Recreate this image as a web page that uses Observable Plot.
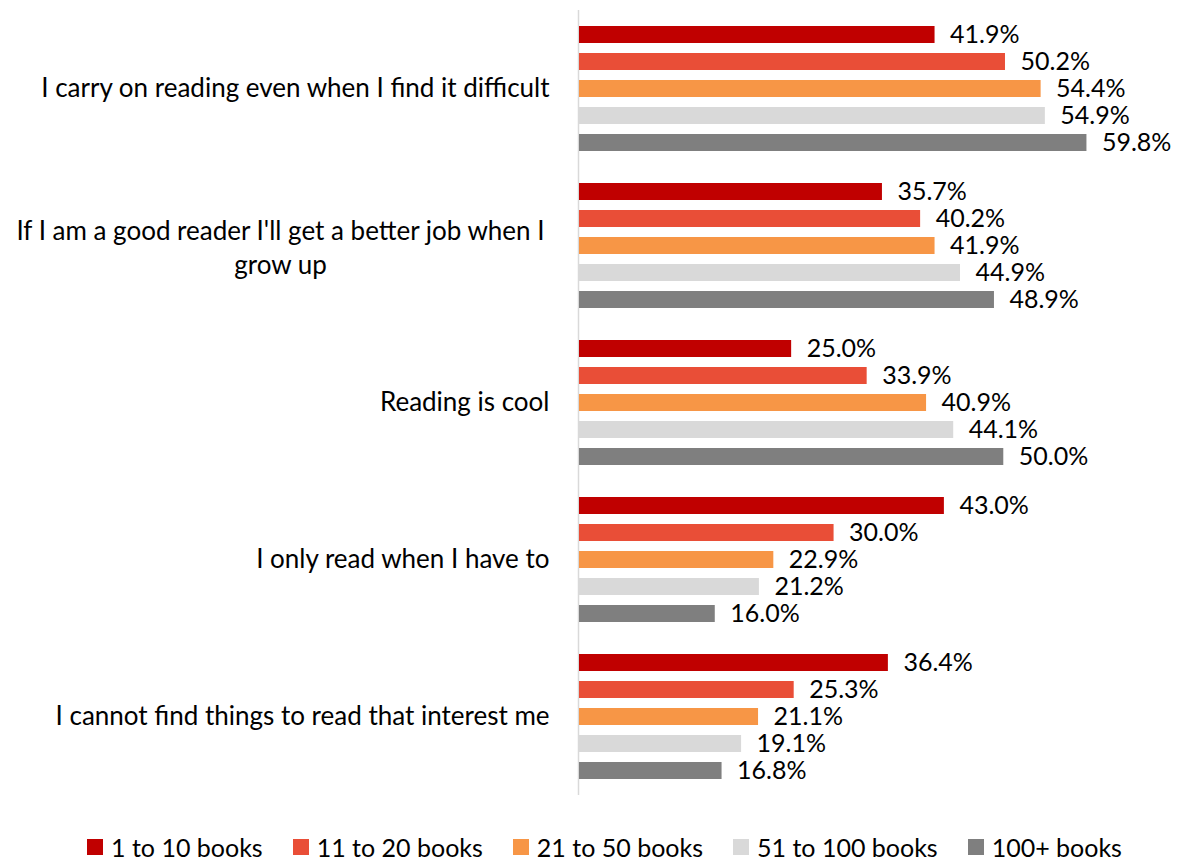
<!DOCTYPE html>
<html>
<head>
<meta charset="utf-8">
<script src="https://cdn.jsdelivr.net/npm/d3@7"></script>
<script src="https://cdn.jsdelivr.net/npm/@observablehq/plot@0.6"></script>
<style>
  html, body { margin: 0; padding: 0; background: #fff; }
  body { width: 1179px; height: 860px; overflow: hidden; font-family: Lato, "Open Sans", sans-serif; }
  #legend { display: flex; justify-content: center; align-items: center; gap: 30px; font-size: 25px; line-height: 30px; height: 30px; color: #000; margin-top: 17px; padding-left: 30px; }
  #legend .item { display: flex; align-items: center; gap: 8px; }
  #legend .sw { width: 16px; height: 16px; display: inline-block; }
</style>
</head>
<body>
<div id="chart"></div>
<div id="legend"></div>
<script>
const categories = [
  "I carry on reading even when I find it difficult",
  "If I am a good reader I'll get a better job when I\ngrow up",
  "Reading is cool",
  "I only read when I have to",
  "I cannot find things to read that interest me"
];
const series = ["1 to 10 books", "11 to 20 books", "21 to 50 books", "51 to 100 books", "100+ books"];
const colors = ["#C00000", "#E94E37", "#F79646", "#D9D9D9", "#7F7F7F"];
const books1to10   = [41.9, 35.7, 25.0, 43.0, 36.4];
const books11to20  = [50.2, 40.2, 33.9, 30.0, 25.3];
const books21to50  = [54.4, 41.9, 40.9, 22.9, 21.1];
const books51to100 = [54.9, 44.9, 44.1, 21.2, 19.1];
const books100plus = [59.8, 48.9, 50.0, 16.0, 16.8];
const seriesValues = [books1to10, books11to20, books21to50, books51to100, books100plus];

const rows = [];
categories.forEach((c, i) => series.forEach((s, j) => rows.push({category: c, series: s, value: seriesValues[j][i]})));

const font = "Lato, 'Open Sans', sans-serif";
const chart = Plot.plot({
  width: 1179,
  height: 815,
  marginLeft: 579,
  marginRight: 6,
  marginTop: 10,
  marginBottom: 20,
  style: {fontFamily: font, fontSize: "25px", color: "#000", background: "#fff"},
  x: {domain: [0, 70], axis: null},
  y: {domain: series, axis: null, paddingInner: 0.37, paddingOuter: 0.57},
  fy: {domain: categories, axis: null, padding: 0},
  color: {domain: series, range: colors},
  marks: [
    Plot.ruleX([0], {stroke: "#D9D9D9", strokeWidth: 1.5, dx: -1}),
    Plot.barX(rows, {fy: "category", y: "series", x: "value", fill: "series"}),
    Plot.text(rows, {fy: "category", y: "series", x: "value", text: d => d.value.toFixed(1) + "%", textAnchor: "start", dx: 15, fill: "#000", fontSize: 25}),
    Plot.text(categories.filter(c => !c.includes("\n")), {fy: d => d, frameAnchor: "left", text: d => d, textAnchor: "end", dx: -30, fill: "#000", fontSize: 26}),
    Plot.text(categories.filter(c => c.includes("\n")), {fy: d => d, frameAnchor: "left", text: d => d, textAnchor: "middle", dx: -299, lineHeight: 1.31, fill: "#000", fontSize: 26})
  ]
});
document.getElementById("chart").appendChild(chart);

const legend = document.getElementById("legend");
series.forEach((s, j) => {
  const item = document.createElement("div");
  item.className = "item";
  const sw = document.createElement("span");
  sw.className = "sw";
  sw.style.background = colors[j];
  const t = document.createElement("span");
  t.textContent = s;
  item.appendChild(sw);
  item.appendChild(t);
  legend.appendChild(item);
});
</script>
</body>
</html>
